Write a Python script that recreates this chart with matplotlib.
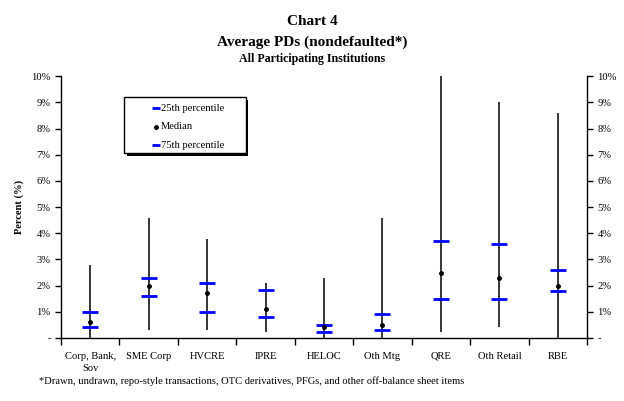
import matplotlib.pyplot as plt
from matplotlib.patches import Rectangle
from matplotlib.ticker import FixedLocator

plt.rcParams['font.family'] = ['Liberation Serif', 'DejaVu Serif']

categories = ["Corp, Bank,\nSov", "SME Corp", "HVCRE", "IPRE", "HELOC",
              "Oth Mtg", "QRE", "Oth Retail", "RBE"]
pd_min = [0.0, 0.3, 0.3, 0.22, 0.0, 0.0, 0.22, 0.41, 0.0]
pd_max = [2.8, 4.6, 3.8, 2.1, 2.3, 4.6, 10.0, 9.0, 8.6]
p25 = [0.41, 1.62, 0.98, 0.79, 0.22, 0.31, 1.5, 1.5, 1.81]
median = [0.6, 2.0, 1.71, 1.1, 0.41, 0.5, 2.5, 2.3, 2.0]
p75 = [1.0, 2.31, 2.12, 1.83, 0.5, 0.9, 3.69, 3.59, 2.6]
y_ticks = [0, 1, 2, 3, 4, 5, 6, 7, 8, 9, 10]
y_labels = ["-", "1%", "2%", "3%", "4%", "5%", "6%", "7%", "8%", "9%", "10%"]
legend_labels = ["25th percentile", "Median", "75th percentile"]

fig = plt.figure(figsize=(6.24, 4.01), dpi=100)
ax = fig.add_axes([0.0978, 0.157, 0.843, 0.653])

x = list(range(len(categories)))
ax.vlines(x, pd_min, pd_max, color="black", lw=1.1)
ax.plot(x, p25, ls="none", marker="_", ms=12, mew=2, color="#0000FF")
ax.plot(x, p75, ls="none", marker="_", ms=12, mew=2, color="#0000FF")
ax.plot(x, median, ls="none", marker="o", ms=2.5, color="black")

ax.set_xlim(-0.5, len(categories) - 0.5)
ax.set_ylim(0, 10)
ax.set_yticks(y_ticks)
ax.set_yticklabels(y_labels)
ax.set_xticks(x)
ax.set_xticklabels(categories, fontsize=7.6, linespacing=1.5)
ax.xaxis.set_minor_locator(FixedLocator([i - 0.5 for i in range(len(categories) + 1)]))
ax.tick_params(axis="x", which="major", length=0, pad=10)
ax.tick_params(axis="x", which="minor", length=5, direction="out", width=1)
ax.tick_params(axis="y", which="major", length=4, direction="out", width=1,
               labelsize=7.6, left=True, right=True, labelleft=True, labelright=True)
ax.spines["top"].set_visible(False)
for s in ["left", "right", "bottom"]:
    ax.spines[s].set_linewidth(1)

ax.set_ylabel("Percent (%)", fontsize=7.6, fontweight="bold", labelpad=5)

# legend box drawn by hand (handles sit well inside the frame in the original)
box_x, box_y, box_w, box_h = 0.1203, 0.705, 0.2308, 0.2137
ax.add_patch(Rectangle((box_x + 0.005, box_y - 0.01), box_w, box_h,
                       transform=ax.transAxes, facecolor="black", edgecolor="none",
                       zorder=5))
ax.add_patch(Rectangle((box_x, box_y), box_w, box_h, transform=ax.transAxes,
                       facecolor="white", edgecolor="black", lw=1, zorder=6))
entry_y = [0.877, 0.807, 0.737]
styles = [dict(marker="_", ms=6, mew=2, color="#0000FF"),
          dict(marker="o", ms=2.5, color="black"),
          dict(marker="_", ms=6, mew=2, color="#0000FF")]
for yy, lab, st in zip(entry_y, legend_labels, styles):
    ax.plot([0.1797], [yy], ls="none", transform=ax.transAxes, zorder=7,
            clip_on=False, **st)
    ax.text(0.1905, yy, lab, transform=ax.transAxes, ha="left", va="center",
            fontsize=7.6, zorder=7)

fig.text(0.5, 0.946, "Chart 4", ha="center", va="center", fontsize=11, fontweight="bold")
fig.text(0.5, 0.895, "Average PDs (nondefaulted*)", ha="center", va="center",
         fontsize=11, fontweight="bold")
fig.text(0.5, 0.852, "All Participating Institutions", ha="center", va="center",
         fontsize=8.6, fontweight="bold")
fig.text(0.062, 0.05, "*Drawn, undrawn, repo-style transactions, OTC derivatives, PFGs, "
         "and other off-balance sheet items", ha="left", va="center", fontsize=7.6)

fig.savefig("out.png", dpi=100)
